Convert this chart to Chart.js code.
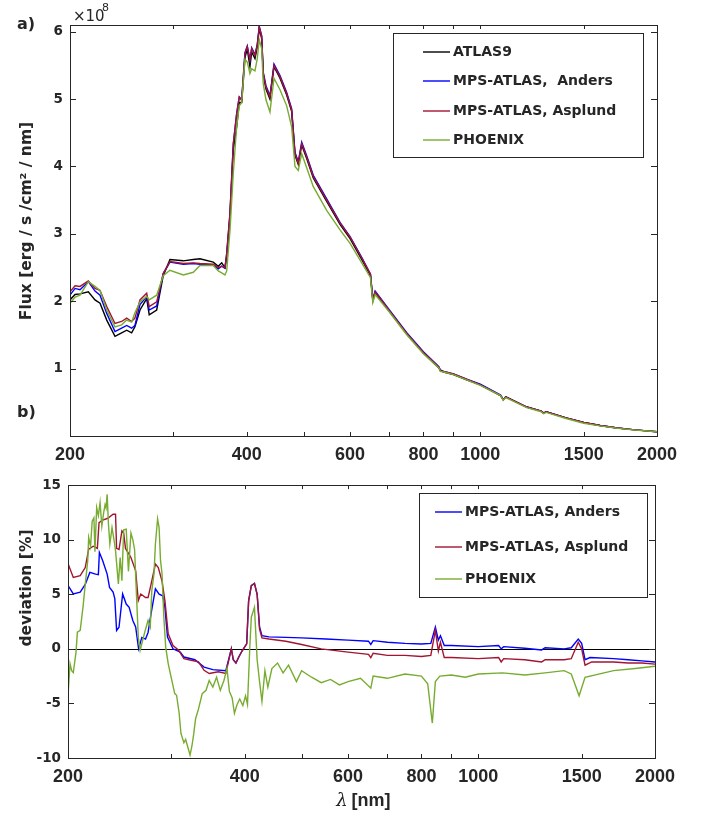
<!DOCTYPE html>
<html>
<head>
<meta charset="utf-8">
<script src="https://cdn.jsdelivr.net/npm/chart.js@4.4.1/dist/chart.umd.min.js"></script>
<style>
  body { margin: 0; background: #fff; }
  #wrap { position: relative; width: 702px; height: 813px; }
  canvas { position: absolute; left: 0; }
</style>
</head>
<body>
<div id="wrap">
  <canvas id="fluxChart" width="702" height="470" style="top:0"></canvas>
  <canvas id="devChart" width="702" height="343" style="top:470px"></canvas>
</div>
<script>
// ---- axis ticks ----
const xTickValues = [200, 300, 400, 500, 600, 700, 800, 900, 1000, 1500, 2000];
const xTickLabels = [200, 400, 600, 800, 1000, 1500, 2000];
const fluxTicks = [1, 2, 3, 4, 5, 6];
const devTicks = [-10, -5, 0, 5, 10, 15];

// ---- panel a: flux (units of 1e8 erg/s/cm2/nm) ----
const fluxLam = [200, 204, 208, 214.9, 220.6, 225, 231, 238.6, 244.9, 249.8, 254.7, 258, 263.2, 270.2, 272.9, 281, 288.3, 296,
  311.9, 324.4, 333, 350.8, 357.8, 362.6, 367.3, 369.8, 374.6, 379.5, 384.6, 388.5, 392.2, 397.3, 400.9, 405.1, 407.9, 413.2,
  416.9, 420.2, 424.2, 426.8, 431.4, 438.2, 445.2, 455.8, 467.9, 477.1, 483.4, 489.7, 496.3, 506.1, 519.4, 547.4, 576.8, 600,
  630, 650, 656, 662, 700, 750, 800, 850, 855, 866, 900, 950, 1000, 1083, 1094, 1105, 1200, 1270, 1282, 1295, 1400, 1500,
  1600, 1700, 1800, 1900, 2000];
const atlas9 = [2.02, 2.10, 2.11, 2.14, 2.02, 1.97, 1.72, 1.48, 1.53, 1.57, 1.53, 1.62, 1.87, 2.04, 1.80, 1.87, 2.38, 2.62,
  2.60, 2.62, 2.63, 2.58, 2.52, 2.57, 2.50, 2.65, 3.25, 4.25, 4.59, 4.95, 4.95, 5.62, 5.74, 5.48, 5.70, 5.60,
  5.77, 6.05, 5.90, 5.36, 5.15, 5.00, 5.48, 5.31, 5.06, 4.82, 4.17, 4.03, 4.32, 4.12, 3.83, 3.48, 3.14, 2.93,
  2.60, 2.38, 2.01, 2.13, 1.85, 1.51, 1.23, 1.01, 0.97, 0.95, 0.91, 0.83, 0.76, 0.60, 0.54, 0.58, 0.43, 0.37, 0.34, 0.36, 0.27, 0.20,
  0.155, 0.122, 0.098, 0.079, 0.064];
const mpsAnders = [2.09, 2.19, 2.17, 2.29, 2.15, 2.09, 1.82, 1.55, 1.60, 1.64, 1.60, 1.64, 1.95, 2.07, 1.87, 1.93, 2.41, 2.58,
  2.55, 2.56, 2.55, 2.54, 2.48, 2.52, 2.49, 2.70, 3.30, 4.33, 4.79, 5.03, 4.99, 5.69, 5.79, 5.58, 5.76, 5.66,
  5.81, 6.08, 5.94, 5.40, 5.20, 5.05, 5.52, 5.35, 5.10, 4.86, 4.21, 4.07, 4.36, 4.16, 3.87, 3.52, 3.17, 2.96,
  2.63, 2.40, 2.03, 2.15, 1.87, 1.53, 1.25, 1.03, 0.98, 0.96, 0.92, 0.84, 0.77, 0.61, 0.54, 0.58, 0.43, 0.37, 0.34, 0.36, 0.27, 0.20,
  0.156, 0.122, 0.098, 0.079, 0.064];
const mpsAsplund = [2.14, 2.23, 2.22, 2.30, 2.19, 2.16, 1.92, 1.67, 1.70, 1.75, 1.70, 1.75, 2.02, 2.12, 1.92, 1.99, 2.41, 2.59,
  2.56, 2.57, 2.56, 2.55, 2.50, 2.52, 2.50, 2.71, 3.31, 4.34, 4.79, 5.03, 4.98, 5.68, 5.78, 5.58, 5.75, 5.65,
  5.80, 6.07, 5.93, 5.38, 5.18, 5.03, 5.50, 5.33, 5.08, 4.84, 4.19, 4.05, 4.34, 4.14, 3.85, 3.50, 3.16, 2.95,
  2.62, 2.40, 2.02, 2.14, 1.86, 1.52, 1.24, 1.02, 0.97, 0.96, 0.92, 0.84, 0.76, 0.60, 0.54, 0.58, 0.43, 0.37, 0.34, 0.36, 0.27, 0.20,
  0.155, 0.122, 0.098, 0.079, 0.064];
const phoenix = [1.97, 2.06, 2.09, 2.29, 2.22, 2.16, 1.87, 1.62, 1.65, 1.72, 1.69, 1.83, 1.99, 2.07, 2.02, 2.09, 2.38, 2.46,
  2.39, 2.43, 2.53, 2.53, 2.45, 2.42, 2.39, 2.45, 3.05, 3.90, 4.60, 4.90, 4.95, 5.59, 5.55, 5.38, 5.45, 5.42,
  5.60, 5.88, 5.75, 5.23, 4.99, 4.81, 5.31, 5.14, 4.90, 4.59, 4.00, 3.94, 4.19, 3.98, 3.70, 3.35, 3.06, 2.86,
  2.55, 2.35, 1.98, 2.10, 1.84, 1.50, 1.22, 1.01, 0.96, 0.95, 0.91, 0.83, 0.75, 0.60, 0.53, 0.57, 0.42, 0.36, 0.33, 0.35, 0.26, 0.19,
  0.150, 0.118, 0.095, 0.077, 0.062];

// ---- panel b: deviation from ATLAS9 [%] ----
const andersLam = [200.2, 204.2, 209.8, 214.0, 217.9, 222.9, 225.3, 226.2, 229.1, 233.2, 235.4, 238.7, 240.3, 242.0, 244.3,
  247.8, 251.3, 254.2, 257.9, 260.8, 263.8, 267.2, 271.1, 273.8, 277.0, 281.8, 285.9, 290.0, 292.5, 295.5, 301.9, 310.6,
  315.1, 329.0, 341.1, 353.0, 371.4, 379.6, 382.5, 386.5, 391.2, 395.8, 403.1, 406.2, 410.5, 415.6, 420, 424, 428, 440,
  470, 500, 550, 600, 650, 656, 662, 700, 750, 800, 830, 845, 855, 862, 875, 900, 1000, 1083, 1094, 1105, 1200, 1282,
  1300, 1400, 1440, 1480, 1500, 1520, 1550, 1700, 1800, 1900, 2000];
const andersDev = [5.78, 5.03, 5.2, 5.9, 7.0, 6.85, 6.8, 8.83, 8.1, 6.85, 5.63, 5.2, 4.6, 1.68, 1.98,
  5.03, 4.1, 3.8, 2.6, 2.0, 0.0, 1.05, 0.9, 1.5, 3.2, 5.5, 5.0, 4.86, 3.8, 1.07, 0.0, -0.3,
  -0.75, -1.0, -1.67, -1.9, -2.0, 0.0, -1.0, -1.3, -0.7, -0.2, 0.46, 4.4, 5.78, 6.0, 5.0, 2.0, 1.2, 1.1,
  1.05, 1.0, 0.9, 0.8, 0.7, 0.4, 0.75, 0.6, 0.5, 0.45, 0.5, 2.0, 0.8, 1.2, 0.3, 0.3, 0.2, 0.3, 0.0, 0.2, 0.05, -0.1,
  0.1, 0.0, 0.1, 0.9, 0.5, -1.0, -0.8, -0.9, -1.0, -1.1, -1.2];

const asplundLam = [200.2, 204.2, 209.8, 214.0, 216.9, 220.8, 224.4, 225.9, 229.1, 233.8, 238.7, 241.0, 242.0, 244.3, 247.1,
  248.8, 250.6, 256.0, 260.8, 263.5, 266.1, 271.1, 273.8, 277.0, 281.8, 285.0, 289.2, 292.5, 296.3, 301.9, 308.4, 315.1,
  324.2, 333.7, 341.1, 348.0, 360.7, 371.4, 379.6, 382.5, 386.5, 391.2, 395.8, 403.1, 406.2, 410.5, 415.6, 420, 424, 428,
  440, 470, 500, 540, 600, 650, 656, 662, 700, 750, 800, 830, 845, 855, 862, 875, 900, 1000, 1083, 1094, 1105, 1200,
  1282, 1300, 1400, 1440, 1480, 1500, 1520, 1560, 1700, 1800, 1900, 2000];
const asplundDev = [7.76, 6.54, 6.7, 7.45, 9.13, 9.4, 9.2, 11.56, 11.8, 11.96, 12.33, 12.33, 9.2, 9.1, 10.8,
  10.6, 9.2, 8.37, 7.15, 4.42, 5.02, 4.7, 4.7, 5.9, 7.76, 7.45, 6.2, 4.42, 1.38, 0.31, -0.1, -0.9,
  -1.05, -1.2, -1.97, -2.26, -2.1, -2.26, 0.0, -1.0, -1.3, -0.7, -0.2, 0.46, 4.4, 5.78, 6.0, 5.0, 1.8, 1.0,
  0.9, 0.7, 0.4, 0.0, -0.3, -0.5, -0.8, -0.4, -0.6, -0.6, -0.7, -0.6, 1.7, -0.2, 0.6, -0.8, -0.8, -0.9, -0.8, -1.2, -0.9, -1.0,
  -1.2, -1.0, -1.0, -0.9, 0.6, 0.0, -1.5, -1.2, -1.2, -1.3, -1.3, -1.4];

const phoenixLam = [200.2, 201.6, 202.9, 204.2, 206.4, 207.5, 209.8, 212.1, 214.0, 216.1, 216.9, 218.5, 219.9, 221.4, 222.3,
  223.8, 225.3, 226.8, 228.4, 230.0, 231.3, 232.2, 233.2, 234.4, 235.7, 237.7, 239.7, 241.0, 243.7, 245.4, 247.1, 248.8,
  251.3, 253.5, 256.0, 257.9, 259.7, 261.6, 263.5, 265.4, 268.4, 271.1, 273.8, 276.2, 277.8, 280.2, 281.8, 284.2, 285.9,
  287.5, 289.2, 291.2, 293.4, 296.3, 299.7, 304.0, 306.2, 309.3, 311.5, 315.1, 317.3, 319.6, 322.8, 325.2, 327.6, 329.9,
  333.7, 338.6, 343.7, 348.0, 353.0, 358.2, 363.5, 368.7, 373.1, 376.7, 380.8, 384.2, 388.2, 392.3, 397.1, 401.3, 404.4,
  408.1, 410.5, 415.6, 420, 424, 428, 433, 438, 445, 455, 465, 475, 490, 500, 520, 540, 560, 580, 600, 630, 656, 662,
  700, 750, 800, 820, 835, 845, 860, 900, 950, 1000, 1100, 1200, 1300, 1400, 1440, 1485, 1520, 1700, 1850, 2000];
const phoenixDev = [-3.95, -1.36, -2.0, -2.17, -0.3, 1.52, 1.7, 3.8, 5.9, 8.07, 10.19, 9.4, 11.7, 12.0, 8.9,
  12.93, 12.2, 13.4, 11.25, 12.45, 13.2, 12.9, 14.15, 11.4, 9.6, 11.1, 9.9, 9.0, 5.94, 8.37, 6.25, 10.9,
  10.96, 7.1, 10.6, 10.0, 9.1, 5.0, 1.07, -0.14, 0.9, 1.8, 2.6, 2.0, 5.3, 6.85, 9.6, 11.9, 11.1,
  8.1, 6.9, 3.0, 0.16, -1.35, -2.6, -4.1, -4.25, -5.9, -7.75, -8.6, -8.3, -8.9, -9.73, -8.9, -7.75, -6.4,
  -5.5, -4.1, -3.8, -2.9, -3.5, -2.6, -3.8, -2.9, -1.8, -3.9, -4.5, -5.9, -5.1, -4.6, -5.2, -4.3, -5.1,
  0.16, 2.9, 3.8, -1.0, -3.0, -4.8, -2.0, -3.5, -1.8, -1.3, -2.2, -1.5, -3.0, -2.0, -2.6, -3.1, -2.8, -3.3, -3.0, -2.7, -3.6, -2.5,
  -2.7, -2.3, -2.5, -3.2, -6.8, -3.0, -2.5, -2.4, -2.6, -2.3, -2.2, -2.4, -2.2, -2.0, -2.3, -4.3, -2.6, -2.0, -1.8, -1.6];

const C_BLACK = '#000000';
const C_BLUE = '#0000ff';
const C_RED = '#a2142f';
const C_GREEN = '#77ac30';
const AX = '#262626';

function pts(xs, ys) { return xs.map((x, i) => ({ x: x, y: ys[i] })); }

function line(label, xs, ys, color, order) {
  return { label, data: pts(xs, ys), borderColor: color, backgroundColor: color,
    borderWidth: 1.4, pointRadius: 0, tension: 0, order };
}

function xAxis(height, pad) {
  return {
    type: 'logarithmic', min: 200, max: 2000,
    afterBuildTicks: s => { s.ticks = xTickValues.map(v => ({ value: v })); },
    afterFit: s => { s.height = height; },
    grid: { display: false, drawTicks: false },
    border: { display: false },
    ticks: {
      autoSkip: false, maxRotation: 0, minRotation: 0, padding: pad, color: AX,
      font: { family: 'Liberation Sans', weight: 'bold', size: 18 },
      callback: v => xTickLabels.includes(v) ? String(v) : ''
    }
  };
}

function yAxis(min, max, tickVals, width) {
  return {
    min, max,
    afterBuildTicks: s => { s.ticks = tickVals.map(v => ({ value: v })); },
    afterFit: s => { s.width = width; },
    grid: { display: false, drawTicks: false },
    border: { display: false },
    ticks: { padding: 7, color: AX, font: { family: 'DejaVu Sans', weight: 'bold', size: 13.5 } }
  };
}

function txt(ctx, s, x, y, font, align, rot) {
  ctx.save();
  ctx.translate(x, y);
  if (rot) ctx.rotate(rot);
  ctx.font = font;
  ctx.fillStyle = AX;
  ctx.textAlign = align || 'center';
  ctx.textBaseline = 'middle';
  ctx.fillText(s, 0, 0);
  ctx.restore();
}

function drawFrame(chart) {
  const { ctx, chartArea: a, scales } = chart;
  ctx.save();
  ctx.strokeStyle = AX;
  ctx.lineWidth = 1;
  ctx.strokeRect(Math.round(a.left) + 0.5, Math.round(a.top) + 0.5,
    Math.round(a.right - a.left), Math.round(a.bottom - a.top));
  ctx.beginPath();
  scales.x.ticks.forEach(t => {
    const px = Math.round(scales.x.getPixelForValue(t.value)) + 0.5;
    ctx.moveTo(px, a.bottom); ctx.lineTo(px, a.bottom - 4);
    ctx.moveTo(px, a.top); ctx.lineTo(px, a.top + 4);
  });
  scales.y.ticks.forEach(t => {
    const py = Math.round(scales.y.getPixelForValue(t.value)) + 0.5;
    ctx.moveTo(a.left, py); ctx.lineTo(a.left + 6, py);
    ctx.moveTo(a.right, py); ctx.lineTo(a.right - 6, py);
  });
  ctx.stroke();
  ctx.restore();
}

function drawLegend(chart, box, rowY, lineX, textX) {
  const ctx = chart.ctx;
  ctx.save();
  ctx.fillStyle = '#fff';
  ctx.fillRect(box[0], box[1], box[2] - box[0], box[3] - box[1]);
  ctx.strokeStyle = AX;
  ctx.lineWidth = 1;
  ctx.strokeRect(box[0] + 0.5, box[1] + 0.5, box[2] - box[0], box[3] - box[1]);
  chart.data.datasets.slice().sort((p, q) => q.order - p.order).forEach((ds, i) => {
    const y = rowY[i];
    ctx.strokeStyle = ds.borderColor;
    ctx.lineWidth = 1.4;
    ctx.beginPath(); ctx.moveTo(lineX[0], y); ctx.lineTo(lineX[1], y); ctx.stroke();
    txt(ctx, ds.label, textX, y, 'bold 14px "DejaVu Sans"', 'left');
  });
  ctx.restore();
}

const fluxDecor = {
  id: 'fluxDecor',
  afterDatasetsDraw(chart) { drawFrame(chart); },
  afterDraw(chart) {
    const ctx = chart.ctx;
    drawLegend(chart, [393, 33, 643, 157], [52, 81, 111, 140], [423, 450], 453);
    txt(ctx, 'a)', 17, 25, 'bold 16px "DejaVu Sans"', 'left');
    txt(ctx, 'b)', 17, 413, 'bold 16px "DejaVu Sans"', 'left');
    txt(ctx, '\u00d710', 73, 17, '15px "DejaVu Sans"', 'left');
    txt(ctx, '8', 102, 8, '11px "DejaVu Sans"', 'left');
    txt(ctx, 'Flux [erg / s /cm\u00b2 / nm]', 27, 221, 'bold 15.5px "DejaVu Sans"', 'center', -Math.PI / 2);
  }
};

const devDecor = {
  id: 'devDecor',
  beforeDatasetsDraw(chart) {
    const { ctx, chartArea: a, scales } = chart;
    const y0 = Math.round(scales.y.getPixelForValue(0)) + 0.5;
    ctx.save();
    ctx.strokeStyle = '#000';
    ctx.lineWidth = 1.2;
    ctx.beginPath(); ctx.moveTo(a.left, y0); ctx.lineTo(a.right, y0); ctx.stroke();
    ctx.restore();
  },
  afterDatasetsDraw(chart) { drawFrame(chart); },
  afterDraw(chart) {
    const ctx = chart.ctx;
    drawLegend(chart, [419, 23, 647, 127], [42, 77, 109], [435, 462], 465);
    txt(ctx, 'deviation [%]', 27, 118, 'bold 15.5px "DejaVu Sans"', 'center', -Math.PI / 2);
    txt(ctx, '\u03bb', 342, 331, 'italic 18px "DejaVu Serif"', 'center');
    txt(ctx, '[nm]', 371, 331, 'bold 18px "Liberation Sans"', 'center');
  }
};

const common = {
  responsive: false, animation: false, devicePixelRatio: 1,
  plugins: { legend: { display: false }, tooltip: { enabled: false } }
};

new Chart(document.getElementById('fluxChart'), {
  type: 'line',
  data: { datasets: [
    line('ATLAS9', fluxLam, atlas9, C_BLACK, 3),
    line('MPS-ATLAS,  Anders', fluxLam, mpsAnders, C_BLUE, 2),
    line('MPS-ATLAS, Asplund', fluxLam, mpsAsplund, C_RED, 1),
    line('PHOENIX', fluxLam, phoenix, C_GREEN, 0)
  ] },
  options: Object.assign({}, common, {
    layout: { padding: { left: 0, top: 25, right: 45, bottom: 0 } },
    scales: { x: xAxis(34, 8), y: yAxis(0, 6.1, fluxTicks, 70) }
  }),
  plugins: [fluxDecor]
});

new Chart(document.getElementById('devChart'), {
  type: 'line',
  data: { datasets: [
    line('MPS-ATLAS, Anders', andersLam, andersDev, C_BLUE, 2),
    line('MPS-ATLAS, Asplund', asplundLam, asplundDev, C_RED, 1),
    line('PHOENIX', phoenixLam, phoenixDev, C_GREEN, 0)
  ] },
  options: Object.assign({}, common, {
    layout: { padding: { left: 0, top: 14, right: 47, bottom: 0 } },
    scales: { x: xAxis(55, 8), y: yAxis(-10, 15, devTicks, 68) }
  }),
  plugins: [devDecor]
});
</script>
</body>
</html>
